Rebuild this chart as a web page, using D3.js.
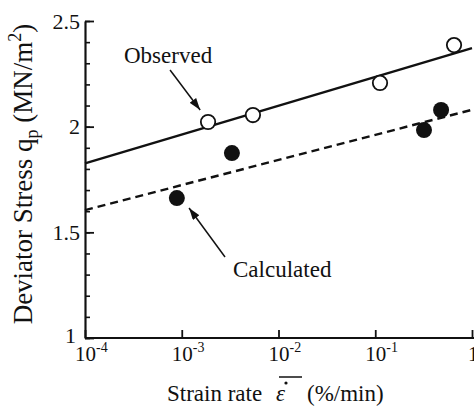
<!DOCTYPE html>
<html>
<head>
<meta charset="utf-8">
<script src="https://cdn.jsdelivr.net/npm/d3@7"></script>
<style>
  body { margin: 0; background: #fff; }
  svg { display: block; }
  text { font-family: "Liberation Serif", "Times New Roman", serif; fill: #111; }
</style>
</head>
<body>
<script>
// observed (open circles)
const obsRate = [0.00187, 0.00544, 0.112, 0.652]
const obsStress = [2.022, 2.055, 2.207, 2.386]
// calculated (filled circles)
const calcRate = [0.00089, 0.0033, 0.319, 0.479]
const calcStress = [1.662, 1.875, 1.984, 2.079]
// fitted lines, ends of the plotted range
const fitRate = [1e-4, 1]
const obsFit = [1.826, 2.372]
const calcFit = [1.605, 2.08]
// tick labels
const xTicks = [1e-4, 1e-3, 1e-2, 1e-1, 1]
const xExp = ['-4', '-3', '-2', '-1', '']
const yTicks = [1, 1.5, 2, 2.5]

const w = 474
const h = 410

const x = d3.scaleLog().domain([1e-4, 1]).range([85, 472])
const y = d3.scaleLinear().domain([1, 2.5]).range([338, 21])

const svg = d3.select('body')
  .append('svg')
  .attr('width', w)
  .attr('height', h)

// y axis: minor ticks then major ticks with labels
svg.append('g')
  .attr('transform', `translate(${x(1e-4)},0)`)
  .call(d3.axisLeft(y).tickValues(d3.range(1, 2.51, 0.1)).tickSize(-5).tickSizeOuter(0).tickFormat(''))
  .call(g => g.selectAll('line,path').attr('stroke', '#111').attr('stroke-width', 1.6))

const yAxis = svg.append('g')
  .attr('transform', `translate(${x(1e-4)},0)`)
  .call(d3.axisLeft(y).tickValues(yTicks).tickSize(-9).tickSizeOuter(0).tickPadding(5).tickFormat(d => d))
yAxis.selectAll('line,path').attr('stroke', '#111').attr('stroke-width', 1.8)
yAxis.selectAll('text')
  .attr('font-size', 22)
  .attr('font-family', '"Liberation Serif", serif')
  .attr('fill', '#111')
// the "1" sits a little left and up in the original
yAxis.selectAll('.tick')
  .filter(d => d === 1)
  .select('text')
  .attr('x', -9)
  .attr('dy', '0.2em')

// x axis
const xAxis = svg.append('g')
  .attr('transform', `translate(0,${y(1)})`)
  .call(d3.axisBottom(x).tickValues(xTicks).tickSize(-8).tickSizeOuter(0).tickFormat(''))
xAxis.selectAll('line,path').attr('stroke', '#111').attr('stroke-width', 1.8)
xAxis.select('.domain').attr('d', `M${x(1e-4)},0H${w}`)

const xl = svg.selectAll('.xlab')
  .data(xTicks)
  .enter()
  .append('text')
  .attr('class', 'xlab')
  .attr('x', (d, i) => i === xTicks.length - 1 ? x(d) - 4 : x(d) - 10)
  .attr('y', 361)
  .attr('font-size', 21)
xl.append('tspan').text((d, i) => i === xTicks.length - 1 ? '1' : '10')
xl.append('tspan')
  .attr('dy', -9)
  .attr('font-size', 14)
  .text((d, i) => xExp[i])

// fitted lines
const line = d3.line()
  .x(d => x(d[0]))
  .y(d => y(d[1]))

svg.append('path')
  .datum(d3.zip(fitRate, obsFit))
  .attr('d', line)
  .attr('fill', 'none')
  .attr('stroke', '#111')
  .attr('stroke-width', 2.4)

svg.append('path')
  .datum(d3.zip(fitRate, calcFit))
  .attr('d', line)
  .attr('fill', 'none')
  .attr('stroke', '#111')
  .attr('stroke-width', 2.4)
  .attr('stroke-dasharray', '8,5')

// points
svg.selectAll('.obs')
  .data(d3.zip(obsRate, obsStress))
  .enter()
  .append('circle')
  .attr('class', 'obs')
  .attr('cx', d => x(d[0]))
  .attr('cy', d => y(d[1]))
  .attr('r', 7.2)
  .attr('fill', '#fff')
  .attr('stroke', '#111')
  .attr('stroke-width', 1.8)

svg.selectAll('.calc')
  .data(d3.zip(calcRate, calcStress))
  .enter()
  .append('circle')
  .attr('class', 'calc')
  .attr('cx', d => x(d[0]))
  .attr('cy', d => y(d[1]))
  .attr('r', 8)
  .attr('fill', '#111')

// arrows + labels
svg.append('defs').append('marker')
  .attr('id', 'head')
  .attr('viewBox', '0 0 12 8')
  .attr('refX', 12)
  .attr('refY', 4)
  .attr('markerWidth', 12)
  .attr('markerHeight', 8)
  .attr('markerUnits', 'userSpaceOnUse')
  .attr('orient', 'auto')
  .append('path')
  .attr('d', 'M0,0L12,4L0,8Z')
  .attr('fill', '#111')

const notes = [
  { text: 'Observed', at: [2.53e-4, 2.301], from: [7.57e-4, 2.268], to: [1.55e-3, 2.079] },
  { text: 'Calculated', at: [3.39e-3, 1.288], from: [2.8e-3, 1.383], to: [1.19e-3, 1.615] }
]

notes.forEach(n => {
  svg.append('line')
    .attr('x1', x(n.from[0]))
    .attr('y1', y(n.from[1]))
    .attr('x2', x(n.to[0]))
    .attr('y2', y(n.to[1]))
    .attr('stroke', '#111')
    .attr('stroke-width', 1.5)
    .attr('marker-end', 'url(#head)')
  svg.append('text')
    .attr('x', x(n.at[0]))
    .attr('y', y(n.at[1]))
    .attr('font-size', 23)
    .text(n.text)
})

// x title: "Strain rate", barred dotted epsilon, units
svg.append('text')
  .attr('x', 167)
  .attr('y', 401)
  .attr('font-size', 23)
  .text('Strain rate')
svg.append('text')
  .attr('x', 276)
  .attr('y', 401)
  .attr('font-size', 23)
  .attr('font-style', 'italic')
  .text('\u03b5')
svg.append('circle')
  .attr('cx', 286)
  .attr('cy', 383)
  .attr('r', 1.6)
  .attr('fill', '#111')
svg.append('line')
  .attr('x1', 279)
  .attr('x2', 302)
  .attr('y1', 377)
  .attr('y2', 377)
  .attr('stroke', '#111')
  .attr('stroke-width', 1.5)
svg.append('text')
  .attr('x', 307)
  .attr('y', 401)
  .attr('font-size', 23)
  .text('(%/min)')

// y title
const yt = svg.append('text')
  .attr('transform', 'translate(32,174) rotate(-90)')
  .attr('text-anchor', 'middle')
  .attr('font-size', 27)
yt.append('tspan').text('Deviator Stress q')
yt.append('tspan').attr('dy', 6).attr('font-size', 18).text('p')
yt.append('tspan').attr('dy', -6).text(' (MN/m')
yt.append('tspan').attr('dy', -11).attr('font-size', 18).text('2')
yt.append('tspan').attr('dy', 11).text(')')
</script>
</body>
</html>
